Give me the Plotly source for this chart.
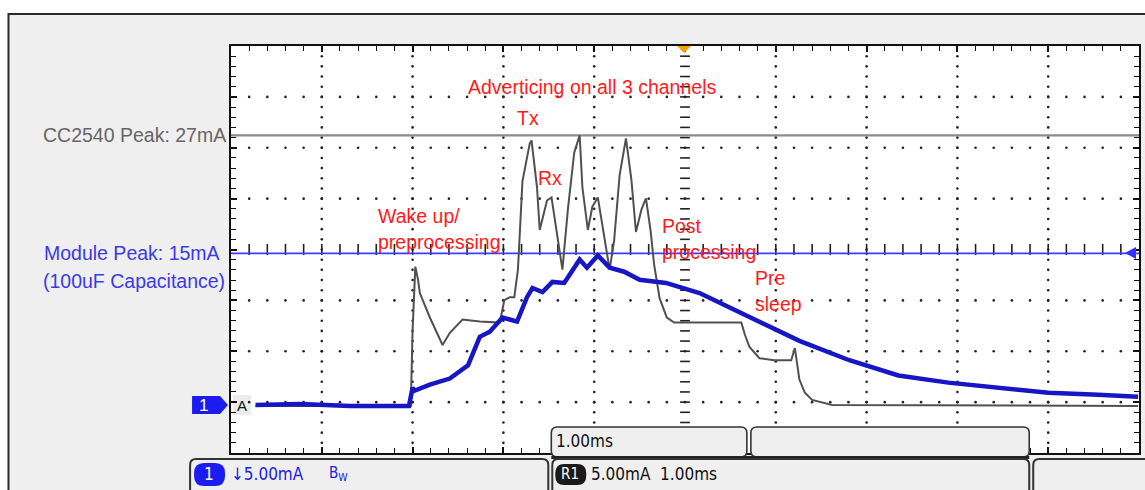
import plotly.graph_objects as go

# ---------------- data (time in ms, current in mA) ----------------
blue_t = [0.27, 0.76, 1.31, 1.96, 2.00, 2.02, 2.19, 2.41, 2.61, 2.74, 2.85, 2.99, 3.07, 3.15,
          3.26, 3.32, 3.43, 3.54, 3.67, 3.84, 3.92, 4.04, 4.17, 4.33, 4.50, 4.79, 5.16,
          5.71, 6.26, 6.81, 7.35, 7.90, 8.45, 9.00, 9.55, 9.99]
blue_mA = [0.0, 0.1, -0.1, -0.1, 1.7, 1.4, 2.0, 2.6, 3.9, 6.7, 7.2, 8.6, 8.4, 8.2,
           10.6, 11.5, 11.1, 12.1, 12.0, 14.3, 13.5, 14.7, 13.5, 13.1, 12.3, 12.0, 11.0,
           8.7, 6.3, 4.4, 2.9, 2.2, 1.7, 1.2, 1.0, 0.8]

gray_t = [0.27, 1.98, 2.00, 2.03, 2.06, 2.08, 2.19, 2.33, 2.41, 2.55, 2.74, 2.96, 3.01,
          3.07, 3.12, 3.16, 3.21, 3.29, 3.31, 3.37, 3.40, 3.48, 3.53, 3.59, 3.65, 3.71,
          3.78, 3.84, 3.87, 3.93, 3.98, 4.04, 4.09, 4.17, 4.22, 4.28, 4.35, 4.41, 4.46,
          4.52, 4.57, 4.62, 4.66, 4.72, 4.80, 4.88, 5.62, 5.66, 5.71, 5.82, 5.98, 6.17,
          6.21, 6.26, 6.32, 6.40, 6.62, 9.99]
gray_mA = [-0.1, -0.1, 7.4, 13.6, 12.3, 11.0, 8.6, 5.9, 7.1, 8.4, 8.2, 8.1, 10.3,
           10.6, 10.6, 13.3, 22.0, 25.7, 26.0, 21.4, 17.2, 20.1, 20.4, 16.9, 13.3, 19.2,
           24.8, 26.5, 21.4, 17.2, 19.5, 20.4, 17.5, 13.3, 16.2, 22.6, 26.2, 22.1, 17.0,
           19.2, 20.3, 17.2, 13.8, 10.5, 8.6, 8.1, 8.1, 6.9, 5.7, 4.6, 4.4, 4.4,
           5.6, 2.5, 1.2, 0.5, 0.0, -0.1]

peak_levels = [26.5, 14.9]          # CC2540 peak, module peak
peak_labels = ["CC2540 Peak: 27mA", "Module Peak: 15mA", "(100uF Capacitance)"]
phase_labels = ["Adverticing on all 3 channels", "Tx", "Rx", "Wake up/", "preprocessing",
                "Post", "processing", "Pre", "sleep"]
status_texts = ["1.00ms", "\u21935.00mA", "B<sub>W</sub>", "5.00mA  1.00ms"]

# ---------------- geometry ----------------
W, H = 1145, 490
L, R, T, B = 231, 4, 46, 37
PW, PH = W - L - R, H - T - B
YMIN = -4.717
YMAX = YMIN + 40
FONT = "Liberation Sans, Arial, sans-serif"
NARROW = "Liberation Sans Narrow, DejaVu Sans Condensed, Arial Narrow, sans-serif"
FS = 19.5


def px(x):
    return (x - L) / PW


def py(y):
    return (H - B - y) / PH


def rpath(x0, y0, x1, y1, r):
    return (f"M {px(x0 + r)},{py(y0)} L {px(x1 - r)},{py(y0)} Q {px(x1)},{py(y0)} {px(x1)},{py(y0 + r)} "
            f"L {px(x1)},{py(y1 - r)} Q {px(x1)},{py(y1)} {px(x1 - r)},{py(y1)} "
            f"L {px(x0 + r)},{py(y1)} Q {px(x0)},{py(y1)} {px(x0)},{py(y1 - r)} "
            f"L {px(x0)},{py(y0 + r)} Q {px(x0)},{py(y0)} {px(x0 + r)},{py(y0)} Z")


def poly(pts):
    return "M " + " L ".join(f"{px(a)},{py(b)}" for a, b in pts) + " Z"


fig = go.Figure()

# grid dots
gx, gy = [], []
for xi in [1, 2, 3, 4, 6, 7, 8, 9]:
    for k in range(1, 40):
        gx.append(xi)
        gy.append(YMIN + k)
for yi in [1, 2, 3, 5, 6, 7]:
    for k in range(1, 50):
        gx.append(k * 0.2)
        gy.append(YMIN + 5 * yi)
fig.add_trace(go.Scatter(x=gx, y=gy, mode="markers", hoverinfo="skip",
                         marker=dict(size=2.6, color="#222222")))
# center axis ticks
fig.add_trace(go.Scatter(x=[5] * 39, y=[YMIN + k for k in range(1, 40)], mode="markers",
                         hoverinfo="skip",
                         marker=dict(symbol="line-ew", size=7, line=dict(width=1.6, color="#222222"))))
fig.add_trace(go.Scatter(x=[k * 0.2 for k in range(1, 50)], y=[YMIN + 20] * 49, mode="markers",
                         hoverinfo="skip",
                         marker=dict(symbol="line-ns", size=8, line=dict(width=1.6, color="#222222"))))

# peak reference lines
fig.add_trace(go.Scatter(x=[0, 10], y=[peak_levels[0]] * 2, mode="lines", hoverinfo="skip",
                         line=dict(color="#8a8a8a", width=2.2)))
fig.add_trace(go.Scatter(x=[0, 10], y=[peak_levels[1]] * 2, mode="lines", hoverinfo="skip",
                         line=dict(color="#3c3cff", width=1.6)))

# traces
fig.add_trace(go.Scatter(x=gray_t, y=gray_mA, mode="lines", hoverinfo="skip",
                         line=dict(color="#505050", width=2)))
fig.add_trace(go.Scatter(x=blue_t, y=blue_mA, mode="lines", hoverinfo="skip",
                         line=dict(color="#1616c4", width=4.5)))

ann = []


def text(x, y, s, color, size=FS, xanchor="left", font=FONT, bg=None):
    d = dict(x=px(x), y=py(y), xref="paper", yref="paper", text=s, showarrow=False,
             xanchor=xanchor, yanchor="middle", font=dict(family=font, size=size, color=color))
    if bg:
        d["bgcolor"] = bg
    ann.append(d)


text(228, 135, peak_labels[0], "#666666", xanchor="right")
text(222, 253, peak_labels[1], "#3a3ae6", xanchor="right")
text(227, 281, peak_labels[2], "#3a3ae6", xanchor="right")

red = "#ff1a1a"
text(593, 87, phase_labels[0], red, xanchor="center")
text(529, 118, phase_labels[1], red, xanchor="center")
text(551, 178, phase_labels[2], red, xanchor="center")
text(376, 216, phase_labels[3], red)
text(376, 242, phase_labels[4], red)
text(661, 226, phase_labels[5], red)
text(661, 252, phase_labels[6], red)
text(754, 278, phase_labels[7], red)
text(754, 304, phase_labels[8], red)

# marker texts
text(203, 405, "1", "white", size=17, xanchor="center")
text(242, 405, "A", "#111111", size=15, xanchor="center")

# status bar texts
text(555, 441, status_texts[0], "#111111", size=17, font=NARROW)
text(209, 474, "1", "white", size=17, xanchor="center", font=NARROW)
text(229, 474, status_texts[1], "#2020e0", size=17, font=NARROW)
text(327, 473, status_texts[2], "#2020e0", size=15, font=NARROW)
text(571, 474, "R1", "white", size=15, xanchor="center", font=NARROW)
text(590, 474, status_texts[3], "#111111", size=17, font=NARROW)

shapes = []
# white strips outside outer frame
shapes.append(dict(type="rect", xref="paper", yref="paper", x0=px(-5), x1=px(1150), y0=py(14), y1=py(-5),
                   fillcolor="white", line=dict(width=0), layer="above"))
shapes.append(dict(type="rect", xref="paper", yref="paper", x0=px(-5), x1=px(8), y0=py(495), y1=py(14),
                   fillcolor="white", line=dict(width=0), layer="above"))
shapes.append(dict(type="path", xref="paper", yref="paper",
                   path=f"M {px(8)},{py(495)} L {px(8)},{py(14)} L {px(1150)},{py(14)}",
                   line=dict(color="#2a2a2a", width=2), layer="above"))
# channel 1 marker
shapes.append(dict(type="path", xref="paper", yref="paper",
                   path=poly([(192, 396), (220, 396), (228, 405), (220, 414), (192, 414)]),
                   fillcolor="#1c1cf0", line=dict(width=0), layer="above"))
shapes.append(dict(type="rect", xref="paper", yref="paper", x0=px(233), x1=px(251), y0=py(415), y1=py(395),
                   fillcolor="#ececec", line=dict(width=0), layer="below"))
# trigger marker
shapes.append(dict(type="path", xref="paper", yref="paper",
                   path=poly([(678, 46), (692, 46), (685, 53)]),
                   fillcolor="#f5a300", line=dict(width=0), layer="above"))
# right blue arrow
shapes.append(dict(type="path", xref="paper", yref="paper",
                   path=poly([(1127, 253), (1138, 247), (1138, 259)]),
                   fillcolor="#3030ff", line=dict(width=0), layer="above"))
# status bar boxes
box_fill = "#efefef"
box_line = dict(color="#333333", width=1.6)
shapes.append(dict(type="path", xref="paper", yref="paper", path=rpath(552, 427, 748, 457, 6),
                   fillcolor=box_fill, line=box_line, layer="above"))
shapes.append(dict(type="path", xref="paper", yref="paper", path=rpath(752, 427, 1031, 457, 6),
                   fillcolor=box_fill, line=box_line, layer="above"))
shapes.append(dict(type="line", xref="paper", yref="paper", x0=px(552), x1=px(1031), y0=py(457.5), y1=py(457.5),
                   line=dict(color="#222222", width=3), layer="above"))
shapes.append(dict(type="path", xref="paper", yref="paper", path=rpath(190, 459, 549, 500, 6),
                   fillcolor=box_fill, line=dict(color="#333333", width=2), layer="above"))
shapes.append(dict(type="path", xref="paper", yref="paper", path=rpath(553, 459, 1031, 500, 6),
                   fillcolor=box_fill, line=dict(color="#333333", width=2), layer="above"))
shapes.append(dict(type="path", xref="paper", yref="paper", path=rpath(1035, 459, 1170, 500, 6),
                   fillcolor=box_fill, line=dict(color="#333333", width=2), layer="above"))
# pills
shapes.append(dict(type="path", xref="paper", yref="paper", path=rpath(194, 463, 225, 486, 10),
                   fillcolor="#1c1cf0", line=dict(width=0), layer="above"))
shapes.append(dict(type="path", xref="paper", yref="paper", path=rpath(556, 464, 587, 485, 9),
                   fillcolor="#1a1a1a", line=dict(width=0), layer="above"))

axis_common = dict(showgrid=False, zeroline=False, showticklabels=False, showline=True,
                   linecolor="#111111", linewidth=2, mirror="ticks", ticks="inside",
                   tickcolor="#111111", tickwidth=1.6, ticklen=6)

fig.update_layout(
    width=W, height=H, margin=dict(l=L, r=R, t=T, b=B),
    paper_bgcolor="#efefef", plot_bgcolor="white", showlegend=False,
    xaxis=dict(range=[0, 10], dtick=1, tick0=0,
               minor=dict(dtick=0.2, ticks="inside", ticklen=5, tickcolor="#111111", tickwidth=1.4),
               **axis_common),
    yaxis=dict(range=[YMIN, YMAX], dtick=5, tick0=YMIN,
               minor=dict(dtick=1, tick0=YMIN, ticks="inside", ticklen=5, tickcolor="#111111", tickwidth=1.4),
               **axis_common),
    annotations=ann, shapes=shapes,
)

fig.write_html("out.html", config={"displayModeBar": False},
               post_script="document.body.style.margin='0';document.body.style.overflow='hidden';")
